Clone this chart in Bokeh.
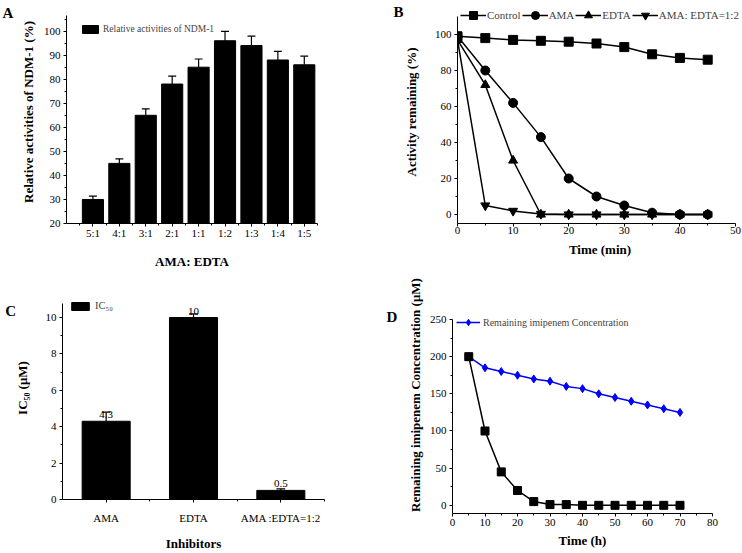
from bokeh.plotting import figure
from bokeh.models import Legend, LegendItem, Label, FixedTicker, Range1d
from bokeh.layouts import column, row
from bokeh.embed import file_html
from bokeh.resources import INLINE

FONT = "Liberation Serif"

# ---------------- data ----------------
# Panel A
a_ratios = ["5:1", "4:1", "3:1", "2:1", "1:1", "1:2", "1:3", "1:4", "1:5"]
a_activity = [30, 45, 65, 78, 85, 96, 94, 88, 86]
a_error = [1.4, 1.9, 2.7, 3.3, 3.4, 3.9, 3.9, 3.6, 3.6]

# Panel B
b_time = [0, 5, 10, 15, 20, 25, 30, 35, 40, 45]
b_control = [99, 98, 97, 96.5, 96, 95, 93, 89, 87, 86]
b_ama = [99, 80, 62, 43, 20, 10, 5, 1, 0, 0]
b_edta = [97, 72, 30, 0, 0, 0, 0, 0, 0, 0]
b_mix = [97, 5, 2, 0.3, 0, 0, 0, 0, 0, 0]
b_names = ["Control", "AMA", "EDTA", "AMA: EDTA=1:2"]

# Panel C
c_inhibitors = ["AMA", "EDTA", "AMA :EDTA=1:2"]
c_ic50 = [4.3, 10, 0.5]
c_error = [0.5, 0.2, 0.08]
c_labels = ["4.3", "10", "0.5"]

# Panel D
d_time = [5, 10, 15, 20, 25, 30, 35, 40, 45, 50, 55, 60, 65, 70]
d_remaining = [200, 185, 180, 175, 170, 167, 160, 157, 150, 145, 140, 135, 130, 125]
d_control = [200, 100, 45, 20, 5, 1, 1, 0, 0, 0, 0, 0, 0, 0]


class Panel:
    """Figure whose frame reaches the top (and optionally the right edge) of its canvas
    so that legends beyond the axes are not clipped; the axes are bounded to the
    visible ranges."""

    def __init__(self, w, h, xr, yr, left, right, top, bottom, extend_right=False):
        self.w, self.h = w, h
        self.fl, self.fr = left, w - right          # axis x extent in canvas px
        self.ft, self.fb = top, h - bottom          # axis top / frame bottom in canvas px
        self.xr, self.yr = xr, yr
        y_ext = yr[0] + (yr[1] - yr[0]) * self.fb / (self.fb - self.ft)
        if extend_right:
            x_ext = xr[0] + (xr[1] - xr[0]) * (w - self.fl) / (self.fr - self.fl)
            mbr = 0
        else:
            x_ext = xr[1]
            mbr = right
        p = figure(width=w, height=h, title=None,
                   x_range=Range1d(xr[0], x_ext), y_range=Range1d(yr[0], y_ext),
                   output_backend="svg", toolbar_location=None,
                   min_border_left=left, min_border_right=mbr,
                   min_border_top=0, min_border_bottom=bottom)
        p.frame_align = False
        self.p = p

    def data_x(self, px):
        return self.xr[0] + (px - self.fl) / (self.fr - self.fl) * (self.xr[1] - self.xr[0])

    def data_y(self, py):
        return self.yr[0] + (self.fb - py) / (self.fb - self.ft) * (self.yr[1] - self.yr[0])

    def letter(self, text, px, py):
        self.p.add_layout(Label(x=self.data_x(px), y=self.data_y(py), text=text,
                                text_font=FONT, text_font_style="bold", text_font_size="15px",
                                text_baseline="top", text_align="left", text_color="black"), "left")


def style(pp, xstand=0, ystand=3):
    p = pp.p
    p.outline_line_color = None
    p.xgrid.visible = False
    p.ygrid.visible = False
    for ax in p.axis:
        ax.axis_line_color = "black"
        ax.axis_line_width = 1
        ax.major_tick_out = 3
        ax.major_tick_in = 0
        ax.minor_tick_out = 2
        ax.minor_tick_in = 0
        ax.major_tick_line_color = "black"
        ax.minor_tick_line_color = "black"
        ax.major_label_text_font = FONT
        ax.major_label_text_font_size = "11px"
        ax.major_label_text_color = "black"
        ax.axis_label_text_font = FONT
        ax.axis_label_text_font_style = "bold"
        ax.axis_label_text_font_size = "13px"
        ax.axis_label_text_color = "black"
    p.xaxis.major_label_standoff = xstand
    p.yaxis.major_label_standoff = ystand
    p.yaxis.bounds = pp.yr
    p.xaxis.bounds = pp.xr


def legend(items, loc, **kw):
    return Legend(items=items, location=loc, border_line_color=None, background_fill_alpha=0,
                  padding=0, margin=0, label_text_font=FONT, **kw)


# ---------------- Panel A ----------------
a_x = list(range(1, len(a_ratios) + 1))
a_top = [v + e for v, e in zip(a_activity, a_error)]
PA = Panel(371, 276, (0, 9.5), (20, 106.5), 66, 54, 15, 53)
pA = PA.p
barA = pA.vbar(x=a_x, top=a_activity, bottom=20, width=0.8, fill_color="black", line_color="black")
pA.segment(x0=a_x, y0=a_activity, x1=a_x, y1=a_top, line_color="black", line_width=1.2)
pA.segment(x0=[x - 0.15 for x in a_x], y0=a_top, x1=[x + 0.15 for x in a_x], y1=a_top,
           line_color="black", line_width=1.2)
style(PA)
pA.xaxis.ticker = FixedTicker(ticks=a_x, minor_ticks=[x - 0.5 for x in a_x] + [a_x[-1] + 0.5])
pA.xaxis.major_label_overrides = {x: lab for x, lab in zip(a_x, a_ratios)}
pA.yaxis.ticker = FixedTicker(ticks=list(range(20, 101, 10)), minor_ticks=list(range(25, 106, 10)))
pA.xaxis.axis_label = "AMA: EDTA"
pA.xaxis.axis_label_standoff = 12
pA.yaxis.axis_label = "Relative activities of NDM-1 (%)"
pA.yaxis.axis_label_standoff = 5
pA.add_layout(legend([LegendItem(label="Relative activities of NDM-1", renderers=[barA])], (14, 189),
                     glyph_width=20, glyph_height=10, label_height=10, label_standoff=3,
                     label_text_font_size="9.5px"))
PA.letter("A", 2, 4)

# ---------------- Panel B ----------------
PB = Panel(371, 276, (0, 50), (-5, 110), 86, 7, 16, 53, extend_right=True)
pB = PB.p
items = []
for series, marker, name in zip([b_control, b_ama, b_edta, b_mix],
                                ["square", "circle", "triangle", "inverted_triangle"], b_names):
    lr = pB.line(b_time, series, line_color="black", line_width=1.5)
    sr = pB.scatter(b_time, series, marker=marker, size=9, fill_color="black", line_color="black")
    items.append(LegendItem(label=name, renderers=[lr, sr]))
style(PB)
pB.xaxis.ticker = FixedTicker(ticks=list(range(0, 51, 10)), minor_ticks=list(range(5, 50, 10)))
pB.yaxis.ticker = FixedTicker(ticks=list(range(0, 101, 20)), minor_ticks=list(range(10, 110, 20)))
pB.xaxis.axis_label = "Time (min)"
pB.xaxis.axis_label_standoff = 5
pB.yaxis.axis_label = "Activity remaining (%)"
pB.yaxis.axis_label_standoff = 13
pB.add_layout(legend(items, (3, 198), orientation="horizontal", spacing=1,
                     glyph_width=26, glyph_height=20, label_height=14, label_standoff=1,
                     label_text_font_size="11px"))
PB.letter("B", 22, 3)

# ---------------- Panel C ----------------
c_x = list(range(1, len(c_inhibitors) + 1))
c_top = [v + e for v, e in zip(c_ic50, c_error)]
PC = Panel(371, 277, (0.5, 3.5), (0, 10.75), 58, 47, 28, 49)
pC = PC.p
barC = pC.vbar(x=c_x, top=c_ic50, bottom=0, width=0.55, fill_color="black", line_color="black")
pC.segment(x0=c_x, y0=c_ic50, x1=c_x, y1=c_top, line_color="black", line_width=1.2)
pC.segment(x0=[x - 0.05 for x in c_x], y0=c_top, x1=[x + 0.05 for x in c_x], y1=c_top,
           line_color="black", line_width=1.2)
pC.text(x=c_x, y=c_ic50, text=c_labels, text_font_size="11px", text_align="center",
        text_baseline="bottom", y_offset=-3, text_color="black", text_font=FONT)
style(PC, xstand=9)
pC.xaxis.ticker = FixedTicker(ticks=c_x, minor_ticks=[1.5, 2.5, 3.5])
pC.xaxis.major_label_overrides = {x: lab for x, lab in zip(c_x, c_inhibitors)}
pC.yaxis.ticker = FixedTicker(ticks=list(range(0, 11, 2)), minor_ticks=list(range(1, 11, 2)))
pC.xaxis.axis_label = "Inhibitors"
pC.xaxis.axis_label_standoff = 9
pC.yaxis.axis_label = "IC\u2085\u2080 (\u03bcM)"
pC.yaxis.axis_label_standoff = 13
pC.add_layout(legend([LegendItem(label="IC\u2085\u2080", renderers=[barC])], (7, 188),
                     glyph_width=22, glyph_height=10, label_height=10, label_standoff=4,
                     label_text_font_size="10.5px"))
PC.letter("C", 0, 27)

# ---------------- Panel D ----------------
PD = Panel(371, 277, (0, 80), (-11, 250), 81, 30, 43, 40)
pD = PD.p
lD = pD.line(d_time, d_remaining, line_color="#0000ff", line_width=1.5)
sD = pD.scatter(d_time, d_remaining, marker="diamond", size=8, fill_color="#0000ff", line_color="#0000ff")
pD.line(d_time, d_control, line_color="black", line_width=1.5)
pD.scatter(d_time, d_control, marker="square", size=8, fill_color="black", line_color="black")
style(PD, xstand=2)
pD.xaxis.ticker = FixedTicker(ticks=list(range(0, 81, 10)), minor_ticks=list(range(5, 80, 10)))
pD.yaxis.ticker = FixedTicker(ticks=list(range(0, 251, 50)), minor_ticks=list(range(25, 250, 50)))
pD.xaxis.axis_label = "Time (h)"
pD.xaxis.axis_label_standoff = 4
pD.yaxis.axis_label = "Remaining imipenem Concentration (\u03bcM)"
pD.yaxis.axis_label_standoff = 4
pD.add_layout(legend([LegendItem(label="Remaining imipenem Concentration", renderers=[lD, sD])], (4, 183),
                     glyph_width=24, glyph_height=16, label_height=12, label_standoff=3,
                     label_text_font_size="10px"))
PD.letter("D", 15, 32)

layout = column(row(pA, pB), row(pC, pD))
open("out.html", "w").write(file_html(layout, INLINE))
